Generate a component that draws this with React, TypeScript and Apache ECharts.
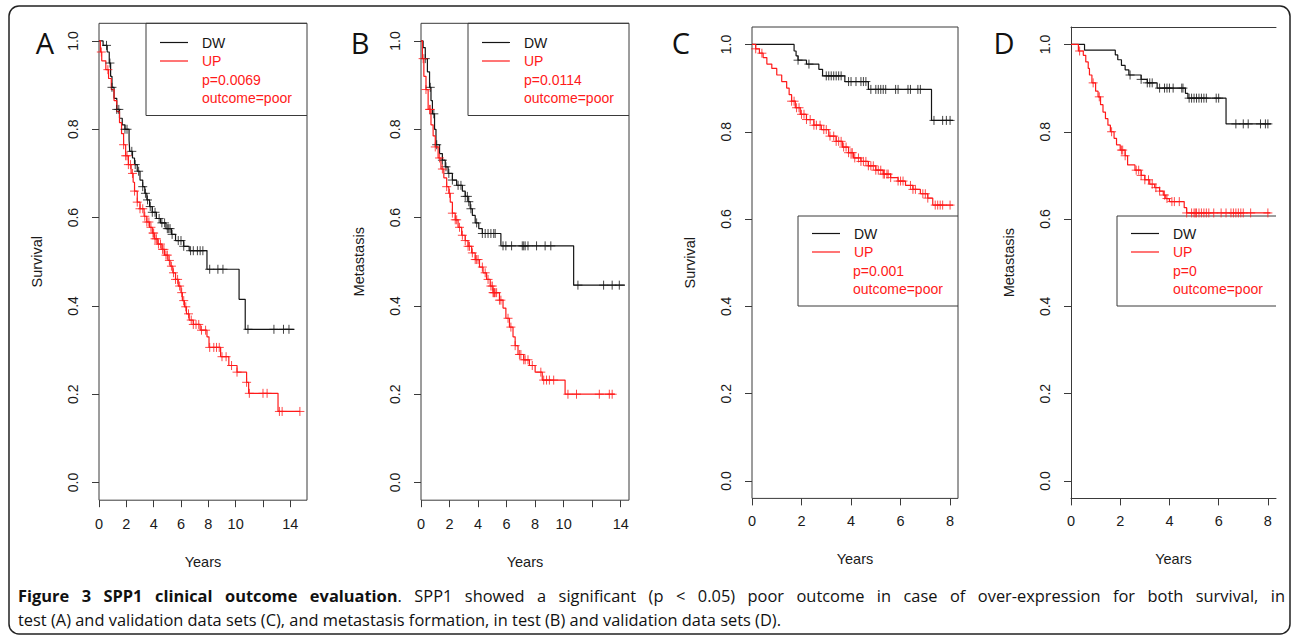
import React, { useEffect, useRef } from "react";
import * as echarts from "echarts";

// ---------- labels ----------
const groups = ["DW", "UP"];
const panelLetters = ["A", "B", "C", "D"];
const yTitles = ["Survival", "Metastasis", "Survival", "Metastasis"];
const pLabels = ["p=0.0069", "p=0.0114", "p=0.001", "p=0"];
const outcomeLabel = "outcome=poor";
const xTitle = "Years";
const yTicks = [0, 0.2, 0.4, 0.6, 0.8, 1.0];
const xTicksAB = [0, 2, 4, 6, 8, 10, 12, 14];
const xLabelsAB = [0, 2, 4, 6, 8, 10, 14];
const xTicksCD = [0, 2, 4, 6, 8];
const xLabelsCD = [0, 2, 4, 6, 8];
const xMaxes = [15.22, 14.58, 8.32, 8.33];
const yMin = -0.04;
const yMax = 1.04;

const captionTitle = "Figure 3 SPP1 clinical outcome evaluation";
const captionRest1 =
  ". SPP1 showed a significant (p < 0.05) poor outcome in case of over-expression for both survival, in";
const captionLine2 =
  "test (A) and validation data sets (C), and metastasis formation, in test (B) and validation data sets (D).";

// ---------- Panel A: survival, test set ----------
const aDwSteps = [
  [0, 1], [0.3, 0.99], [0.6, 0.975], [0.75, 0.95], [0.85, 0.92], [0.95, 0.895], [1.1, 0.87],
  [1.3, 0.845], [1.5, 0.825], [1.7, 0.81], [1.9, 0.8], [2.2, 0.775], [2.25, 0.75], [2.45, 0.735],
  [2.6, 0.72], [2.8, 0.705], [3.0, 0.685], [3.2, 0.67], [3.35, 0.655], [3.5, 0.64], [3.7, 0.625],
  [3.9, 0.612], [4.2, 0.598], [4.5, 0.588], [4.9, 0.575], [5.3, 0.562], [5.6, 0.548], [6.2, 0.535],
  [6.6, 0.525], [7.9, 0.483], [10.25, 0.415], [10.7, 0.347], [14.3, 0.347],
];
const aDwCensor = [
  0.55, 0.8, 0.95, 1.3, 1.45, 1.9, 2.05, 2.4, 2.65, 2.9, 3.2, 3.4, 3.55, 3.75, 3.9, 4.1, 4.4, 4.6,
  4.8, 5.0, 5.1, 5.2, 5.35, 5.8, 6.0, 6.2, 6.7, 6.9, 7.2, 7.4, 7.6, 8.1, 8.7, 9.07, 10.9, 12.8, 13.5, 13.9,
];
const aUpSteps = [
  [0, 1], [0.1, 0.975], [0.2, 0.955], [0.5, 0.935], [0.7, 0.915], [0.9, 0.89], [1.1, 0.865],
  [1.3, 0.84], [1.5, 0.815], [1.65, 0.79], [1.8, 0.765], [1.95, 0.74], [2.15, 0.72], [2.35, 0.7],
  [2.5, 0.68], [2.6, 0.66], [2.8, 0.635], [3.0, 0.62], [3.3, 0.603], [3.5, 0.59], [3.7, 0.578],
  [3.9, 0.565], [4.05, 0.552], [4.3, 0.54], [4.6, 0.528], [4.8, 0.515], [5.05, 0.503], [5.2, 0.49],
  [5.4, 0.475], [5.6, 0.46], [5.8, 0.445], [6.0, 0.43], [6.1, 0.412], [6.25, 0.398], [6.4, 0.382],
  [6.6, 0.368], [6.9, 0.358], [7.4, 0.345], [7.9, 0.33], [8.05, 0.306], [8.9, 0.285], [9.5, 0.265],
  [10.1, 0.25], [10.8, 0.227], [10.95, 0.202], [13.1, 0.161], [14.7, 0.161],
];
const aUpCensor = [
  0.17, 0.65, 1.8, 1.95, 2.05, 2.15, 2.3, 2.45, 2.6, 2.8, 3.0, 3.2, 3.35, 3.5, 3.65, 3.8, 3.95, 4.0,
  4.1, 4.2, 4.35, 4.5, 4.65, 4.75, 4.9, 5.0, 5.15, 5.3, 5.45, 5.6, 5.75, 5.9, 6.05, 6.2, 6.35, 6.55,
  6.75, 6.9, 7.1, 7.3, 7.5, 7.8, 8.1, 8.4, 8.6, 8.8, 9.0, 9.3, 9.7, 10.1, 10.8, 11.0, 12.0, 12.3,
  13.2, 13.4, 14.7,
];

// ---------- Panel B: metastasis, test set ----------
const bDwSteps = [
  [0, 1], [0.15, 0.985], [0.3, 0.96], [0.45, 0.93], [0.6, 0.895], [0.7, 0.865], [0.8, 0.835],
  [0.95, 0.8], [1.05, 0.765], [1.3, 0.745], [1.5, 0.73], [1.7, 0.715], [1.9, 0.7], [2.2, 0.685],
  [2.5, 0.673], [2.9, 0.66], [3.1, 0.648], [3.3, 0.636], [3.45, 0.62], [3.6, 0.605], [3.8, 0.588],
  [4.05, 0.575], [4.3, 0.564], [5.6, 0.536], [10.7, 0.447], [14.3, 0.447],
];
const bDwCensor = [
  0.3, 0.65, 0.9, 1.1, 1.5, 1.75, 1.95, 2.2, 2.6, 2.8, 3.1, 3.25, 3.35, 3.5, 3.9, 4.3, 4.5, 4.7,
  4.9, 5.1, 5.2, 5.75, 5.95, 6.35, 7.1, 7.2, 7.3, 7.5, 8.1, 8.7, 9.1, 11.0, 12.8, 13.4, 13.9,
];
const bUpSteps = [
  [0, 1], [0.1, 0.96], [0.2, 0.92], [0.35, 0.89], [0.5, 0.845], [0.7, 0.81], [0.85, 0.785],
  [1.0, 0.76], [1.2, 0.735], [1.4, 0.71], [1.6, 0.69], [1.8, 0.67], [1.95, 0.655], [2.05, 0.635],
  [2.2, 0.61], [2.4, 0.595], [2.6, 0.578], [2.85, 0.56], [3.1, 0.548], [3.3, 0.535], [3.55, 0.52],
  [3.8, 0.505], [4.1, 0.488], [4.35, 0.475], [4.6, 0.46], [4.85, 0.445], [5.05, 0.43], [5.5, 0.413],
  [5.75, 0.395], [5.95, 0.372], [6.2, 0.352], [6.45, 0.33], [6.6, 0.31], [6.8, 0.29], [7.2, 0.278],
  [7.6, 0.265], [8.0, 0.25], [8.5, 0.232], [10.1, 0.2], [13.6, 0.2],
];
const bUpCensor = [
  0.15, 0.35, 0.6, 0.65, 1.0, 1.3, 1.5, 1.8, 2.0, 2.2, 2.4, 2.5, 2.7, 2.9, 3.1, 3.3, 3.4, 3.6, 3.8,
  3.9, 4.0, 4.3, 4.5, 4.7, 4.9, 5.0, 5.05, 5.1, 5.15, 5.2, 5.3, 5.5, 5.6, 6.1, 6.3, 6.6, 6.9, 7.0,
  7.2, 7.3, 7.5, 7.8, 8.4, 8.6, 8.8, 9.0, 9.3, 10.3, 10.9, 12.5, 13.2, 13.4,
];

// ---------- Panel C: survival, validation set ----------
const cDwSteps = [
  [0, 1], [1.7, 0.985], [1.78, 0.974], [1.86, 0.964], [2.2, 0.955], [2.7, 0.943], [2.85, 0.928],
  [3.75, 0.915], [4.7, 0.897], [7.25, 0.826], [8.12, 0.826],
];
const cDwCensor = [
  1.86, 2.3, 3.0, 3.1, 3.2, 3.3, 3.4, 3.5, 3.6, 3.9, 4.0, 4.2, 4.4, 4.5, 4.6, 4.8, 5.0, 5.1, 5.2,
  5.3, 5.4, 5.8, 5.9, 6.3, 6.4, 6.7, 6.8, 7.35, 7.7, 7.85, 8.0,
];
const cUpSteps = [
  [0, 1], [0.15, 0.99], [0.3, 0.98], [0.45, 0.97], [0.6, 0.955], [0.8, 0.945], [1.0, 0.93],
  [1.2, 0.915], [1.4, 0.9], [1.5, 0.885], [1.6, 0.87], [1.75, 0.855], [1.95, 0.84], [2.2, 0.828],
  [2.5, 0.815], [2.8, 0.805], [3.1, 0.79], [3.4, 0.778], [3.65, 0.765], [3.9, 0.752], [4.1, 0.74],
  [4.4, 0.732], [4.7, 0.722], [5.0, 0.712], [5.3, 0.703], [5.6, 0.695], [5.9, 0.687], [6.2, 0.677],
  [6.5, 0.668], [6.8, 0.658], [7.1, 0.648], [7.3, 0.632], [8.12, 0.632],
];
const cUpCensor = [
  0.15, 0.4, 1.6, 1.7, 1.8, 1.9, 2.0, 2.1, 2.2, 2.35, 2.5, 2.6, 2.75, 2.9, 3.0, 3.15, 3.3, 3.4, 3.5,
  3.6, 3.7, 3.8, 3.9, 4.0, 4.05, 4.15, 4.3, 4.4, 4.5, 4.6, 4.7, 4.8, 4.9, 5.0, 5.1, 5.2, 5.3, 5.35,
  5.45, 5.5, 5.6, 5.9, 6.0, 6.1, 6.4, 6.5, 6.6, 6.9, 7.0, 7.1, 7.4, 7.5, 7.6, 7.7, 8.0,
];

// ---------- Panel D: metastasis, validation set ----------
const dDwSteps = [
  [0, 1], [0.55, 0.987], [1.8, 0.976], [1.9, 0.965], [2.05, 0.952], [2.2, 0.942], [2.35, 0.93],
  [2.85, 0.92], [3.1, 0.912], [3.5, 0.9], [4.65, 0.888], [4.75, 0.877], [6.3, 0.818], [8.13, 0.818],
];
const dDwCensor = [
  2.4, 2.85, 3.1, 3.2, 3.3, 3.6, 3.8, 3.9, 4.0, 4.15, 4.5, 4.55, 4.8, 4.9, 5.0, 5.1, 5.2, 5.3, 5.4,
  5.5, 5.9, 6.0, 6.7, 7.0, 7.2, 7.7, 7.9, 8.0,
];
const dUpSteps = [
  [0, 1], [0.3, 0.985], [0.5, 0.975], [0.6, 0.96], [0.7, 0.945], [0.75, 0.93], [0.85, 0.912],
  [1.0, 0.893], [1.1, 0.88], [1.2, 0.862], [1.3, 0.845], [1.4, 0.83], [1.5, 0.815], [1.6, 0.8],
  [1.75, 0.785], [1.85, 0.77], [2.0, 0.758], [2.2, 0.745], [2.3, 0.724], [2.6, 0.712], [2.85, 0.7],
  [3.0, 0.69], [3.2, 0.68], [3.4, 0.672], [3.6, 0.664], [3.75, 0.655], [3.85, 0.647], [4.0, 0.64],
  [4.6, 0.626], [4.7, 0.614], [8.1, 0.614],
];
const dUpCensor = [
  0.35, 0.9, 1.15, 1.65, 2.05, 2.1, 2.2, 2.65, 2.75, 2.85, 3.0, 3.15, 3.3, 3.45, 3.6, 3.8, 3.9, 4.1,
  4.2, 4.4, 4.7, 4.9, 5.0, 5.05, 5.1, 5.2, 5.3, 5.4, 5.5, 5.6, 5.8, 6.1, 6.3, 6.5, 6.6, 6.7, 6.8,
  6.9, 7.0, 7.3, 8.0,
];

// ---------- styles / layout ----------
const BLACK = "#151515";
const RED = "#ff1a1a";
const AXIS = "#3a3a3a";
const PLOT_FONT = "Liberation Sans";
const CAP_FONT = "Open Sans";
const CAP_SIZE = 16.4;
const PLUS = "path://M5,0L5,10M0,5L10,5";

const layouts = [
  { grid: { left: 99, top: 23.3, width: 208, height: 476.9 }, box: [146, 23.3, 307, 115.5], legX: 160, textX: 202, rowY: 42.5, letter: [45, 42], xMargin: 16, xGap: 54, yMargin: 19, yGap: 55 },
  { grid: { left: 421, top: 23.3, width: 208, height: 476.9 }, box: [468, 23.3, 629, 115.5], legX: 482, textX: 524, rowY: 42.5, letter: [360, 42], xMargin: 16, xGap: 54, yMargin: 19, yGap: 55 },
  { grid: { left: 752, top: 27, width: 206, height: 471.4 }, box: [798, 216, 958, 306], legX: 812, textX: 853, rowY: 233.5, letter: [681, 42], xMargin: 15, xGap: 53, yMargin: 19, yGap: 55 },
  { grid: { left: 1071, top: 27, width: 205, height: 471.4 }, box: [1117, 216, 1276, 306], legX: 1131, textX: 1173, rowY: 233.5, letter: [1004, 42], xMargin: 15, xGap: 53, yMargin: 19, yGap: 55 },
];
const ROW = 18.5;

const panelData = [
  { dw: aDwSteps, dwC: aDwCensor, up: aUpSteps, upC: aUpCensor, ticks: xTicksAB, labels: xLabelsAB },
  { dw: bDwSteps, dwC: bDwCensor, up: bUpSteps, upC: bUpCensor, ticks: xTicksAB, labels: xLabelsAB },
  { dw: cDwSteps, dwC: cDwCensor, up: cUpSteps, upC: cUpCensor, ticks: xTicksCD, labels: xLabelsCD },
  { dw: dDwSteps, dwC: dDwCensor, up: dUpSteps, upC: dUpCensor, ticks: xTicksCD, labels: xLabelsCD },
];

// Kaplan-Meier value in force at time t (the step that a censoring mark sits on)
function stepValue(steps: number[][], t: number) {
  let v = steps[0][1];
  for (const [x, y] of steps) {
    if (x <= t) v = y;
    else break;
  }
  return v;
}

function buildOption(measure: (s: string, bold: boolean) => number) {
  const grid: any[] = [];
  const xAxis: any[] = [];
  const yAxis: any[] = [];
  const series: any[] = [];
  const legend: any[] = [];
  const graphic: any[] = [];

  panelData.forEach((p, i) => {
    const L = layouts[i];
    const openRight = i === 3;
    grid.push({
      ...L.grid,
      show: !openRight,
      borderColor: AXIS,
      borderWidth: 1,
      backgroundColor: "transparent",
    });
    xAxis.push({
      type: "value",
      gridIndex: i,
      min: 0,
      max: xMaxes[i],
      axisLine: { show: openRight, onZero: false, lineStyle: { color: AXIS, width: 1 } },
      axisTick: { show: true, length: 7, inside: false, customValues: p.ticks, lineStyle: { color: AXIS } },
      axisLabel: { customValues: p.labels, fontSize: 14.5, color: "#1a1a1a", margin: L.xMargin, fontFamily: PLOT_FONT },
      splitLine: { show: false },
      name: xTitle,
      nameLocation: "middle",
      nameGap: L.xGap,
      nameTextStyle: { fontSize: 14.5, color: "#1a1a1a", fontFamily: PLOT_FONT },
    });
    yAxis.push({
      type: "value",
      gridIndex: i,
      min: yMin,
      max: yMax,
      axisLine: { show: openRight, onZero: false, lineStyle: { color: AXIS, width: 1 } },
      axisTick: { show: true, length: 7, inside: false, customValues: yTicks, lineStyle: { color: AXIS } },
      axisLabel: {
        customValues: yTicks,
        rotate: 90,
        fontSize: 14,
        color: "#1a1a1a",
        margin: L.yMargin,
        fontFamily: PLOT_FONT,
        formatter: (v: number) => v.toFixed(1),
      },
      splitLine: { show: false },
      name: yTitles[i],
      nameLocation: "middle",
      nameGap: L.yGap,
      nameTextStyle: { fontSize: 14.5, color: "#1a1a1a", fontFamily: PLOT_FONT },
    });

    const curves: [number[][], number[], string, string][] = [
      [p.dw, p.dwC, groups[0], BLACK],
      [p.up, p.upC, groups[1], RED],
    ];
    curves.forEach(([steps, cens, name, color]) => {
      series.push({
        type: "line",
        name,
        xAxisIndex: i,
        yAxisIndex: i,
        data: steps,
        step: "end",
        symbol: "none",
        lineStyle: { color, width: 1.2 },
        itemStyle: { color },
        silent: true,
        z: 2,
      });
      series.push({
        type: "scatter",
        name: name + " censored",
        xAxisIndex: i,
        yAxisIndex: i,
        data: cens.map((t) => [t, stepValue(steps, t)]),
        symbol: PLUS,
        symbolSize: 9,
        itemStyle: { color: "none", borderColor: color, borderWidth: 1 },
        silent: true,
        z: 3,
      });
    });

    legend.push({
      orient: "vertical",
      left: L.legX,
      top: L.rowY - 7,
      icon: "rect",
      itemWidth: 28,
      itemHeight: 1.2,
      itemGap: ROW - 14,
      selectedMode: false,
      padding: 0,
      textStyle: { fontSize: 14, fontFamily: PLOT_FONT, lineHeight: 14, padding: [0, 0, 0, 9] },
      data: [
        { name: groups[0], textStyle: { color: BLACK } },
        { name: groups[1], textStyle: { color: RED } },
      ],
    });

    const [bx1, by1, bx2, by2] = L.box;
    graphic.push({
      type: "polyline",
      silent: true,
      shape: { points: [[bx2, by1], [bx1, by1], [bx1, by2], [bx2, by2]] },
      style: { stroke: AXIS, lineWidth: 1, fill: "none" },
    });
    [pLabels[i], outcomeLabel].forEach((txt, k) => {
      graphic.push({
        type: "text",
        silent: true,
        x: L.textX,
        y: L.rowY + ROW * (k + 2),
        style: { text: txt, fill: RED, fontSize: 14, fontFamily: PLOT_FONT, verticalAlign: "middle" },
      });
    });
    graphic.push({
      type: "text",
      silent: true,
      x: L.letter[0],
      y: L.letter[1],
      style: {
        text: panelLetters[i],
        fill: "#111",
        fontSize: 29,
        fontFamily: CAP_FONT,
        align: "center",
        verticalAlign: "middle",
      },
    });
  });

  // top frame line for the clipped panel D
  xAxis.push({
    type: "value",
    gridIndex: 3,
    position: "top",
    min: 0,
    max: xMaxes[3],
    axisLine: { show: true, onZero: false, lineStyle: { color: AXIS, width: 1 } },
    axisTick: { show: false },
    axisLabel: { show: false },
    splitLine: { show: false },
  });

  // outer rounded frame
  graphic.push({
    type: "rect",
    silent: true,
    z: -1,
    shape: { x: 9, y: 6, width: 1281, height: 628, r: 10 },
    style: { stroke: "#222", lineWidth: 1.5, fill: "none" },
  });

  // caption, line 1 justified word by word
  const titleWords = captionTitle.split(" ");
  const restWords = captionRest1.split(" ");
  const words: { t: string; b: boolean }[][] = titleWords.map((w) => [{ t: w, b: true }]);
  words[words.length - 1].push({ t: restWords[0], b: false });
  restWords.slice(1).forEach((w) => words.push([{ t: w, b: false }]));
  const widths = words.map((runs) => runs.reduce((s, r) => s + measure(r.t, r.b), 0));
  const total = widths.reduce((a, b) => a + b, 0);
  const lineStart = 18;
  const lineEnd = 1285;
  const gap = (lineEnd - lineStart - total) / (words.length - 1);
  let cx = lineStart;
  const rich = {
    b: { fontSize: CAP_SIZE, fontFamily: CAP_FONT, fontWeight: "bold", fill: "#111", color: "#111" },
    r: { fontSize: CAP_SIZE, fontFamily: CAP_FONT, fontWeight: "normal", fill: "#111", color: "#111" },
  };
  words.forEach((runs, k) => {
    graphic.push({
      type: "text",
      silent: true,
      x: cx,
      y: 595,
      style: {
        text: runs.map((r) => `{${r.b ? "b" : "r"}|${r.t}}`).join(""),
        rich,
        fontSize: CAP_SIZE,
        fontFamily: CAP_FONT,
        fill: "#111",
        verticalAlign: "middle",
      },
    });
    cx += widths[k] + gap;
  });
  graphic.push({
    type: "text",
    silent: true,
    x: lineStart,
    y: 619,
    style: {
      text: captionLine2,
      fontSize: CAP_SIZE,
      fontFamily: CAP_FONT,
      fill: "#111",
      verticalAlign: "middle",
    },
  });

  return {
    animation: false,
    backgroundColor: "#ffffff",
    textStyle: { fontFamily: PLOT_FONT },
    grid,
    xAxis,
    yAxis,
    legend,
    series,
    graphic,
  };
}

export default function App() {
  const ref = useRef<HTMLDivElement>(null);
  useEffect(() => {
    if (!ref.current) return;
    const chart = echarts.init(ref.current, undefined, { renderer: "svg" });
    const canvas = document.createElement("canvas");
    const ctx = canvas.getContext("2d")!;
    const measure = (s: string, bold: boolean) => {
      ctx.font = `${bold ? "bold " : ""}${CAP_SIZE}px "${CAP_FONT}"`;
      return ctx.measureText(s).width;
    };
    chart.setOption(buildOption(measure) as any);
    return () => chart.dispose();
  }, []);
  return (
    <div
      ref={ref}
      style={{ position: "absolute", left: 0, top: 0, width: 1295, height: 638, background: "#fff" }}
    />
  );
}
